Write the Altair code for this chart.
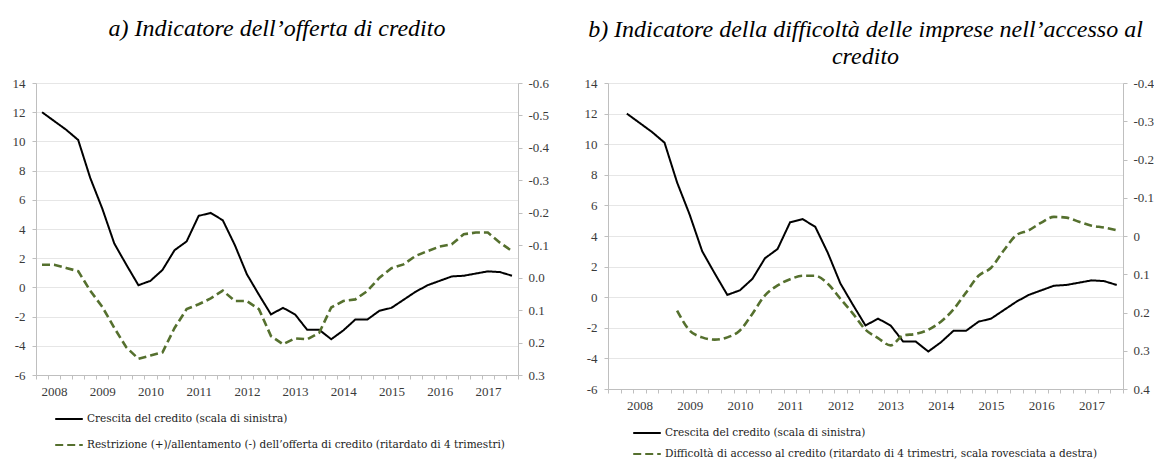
import altair as alt
import pandas as pd

# ---------------- data ----------------
quarters = [
    "2007Q4",
    "2008Q1", "2008Q2", "2008Q3", "2008Q4",
    "2009Q1", "2009Q2", "2009Q3", "2009Q4",
    "2010Q1", "2010Q2", "2010Q3", "2010Q4",
    "2011Q1", "2011Q2", "2011Q3", "2011Q4",
    "2012Q1", "2012Q2", "2012Q3", "2012Q4",
    "2013Q1", "2013Q2", "2013Q3", "2013Q4",
    "2014Q1", "2014Q2", "2014Q3", "2014Q4",
    "2015Q1", "2015Q2", "2015Q3", "2015Q4",
    "2016Q1", "2016Q2", "2016Q3", "2016Q4",
    "2017Q1", "2017Q2", "2017Q3",
]

credit_growth = [
    12.0, 11.4, 10.8, 10.1, 7.5, 5.4, 3.0, 1.55, 0.15, 0.45,
    1.2, 2.55, 3.15, 4.9, 5.1, 4.6, 2.9, 0.9, -0.5, -1.85,
    -1.4, -1.85, -2.9, -2.9, -3.55, -2.95, -2.2, -2.2, -1.6, -1.4,
    -0.85, -0.3, 0.15, 0.45, 0.75, 0.8, 0.95, 1.1, 1.05, 0.8,
]

supply_restriction = [
    -0.04, -0.04, -0.03, -0.02, 0.04, 0.09, 0.155, 0.215, 0.25, 0.24,
    0.23, 0.155, 0.097, 0.082, 0.064, 0.04, 0.072, 0.072, 0.097, 0.18,
    0.205, 0.187, 0.19, 0.17, 0.092, 0.072, 0.067, 0.041, 0.0, -0.029,
    -0.041, -0.067, -0.082, -0.096, -0.103, -0.134, -0.139, -0.139, -0.108, -0.082,
]

access_difficulty = [
    None, None, None, None, 0.195, 0.247, 0.265, 0.271, 0.265, 0.247,
    0.203, 0.155, 0.129, 0.113, 0.104, 0.104, 0.125, 0.164, 0.203, 0.245,
    0.267, 0.286, 0.260, 0.256, 0.245, 0.224, 0.192, 0.148, 0.104, 0.083,
    0.038, -0.002, -0.015, -0.035, -0.050, -0.048, -0.037, -0.027, -0.022, -0.015,
]

years = [2008, 2009, 2010, 2011, 2012, 2013, 2014, 2015, 2016, 2017]
left_ticks = [-6, -4, -2, 0, 2, 4, 6, 8, 10, 12, 14]
right_ticks_a = [-0.6, -0.5, -0.4, -0.3, -0.2, -0.1, 0.0, 0.1, 0.2, 0.3]
right_ticks_b = [-0.4, -0.3, -0.2, -0.1, 0, 0.1, 0.2, 0.3, 0.4]

S1 = "Crescita del credito (scala di sinistra)"
S2A = "Restrizione (+)/allentamento (-) dell’offerta di credito (ritardato di 4 trimestri)"
S2B = "Difficoltà di accesso al credito (ritardato di 4 trimestri, scala rovesciata a destra)"
TITLE_A = "a) Indicatore dell’offerta di credito"
TITLE_B = ["b) Indicatore della difficoltà delle imprese nell’accesso al", "credito"]

# ---------------- styling ----------------
FONT = "Liberation Serif"
LEGEND_FONT = "DejaVu Serif"
GREEN = "#55702E"
AXIS_GRAY = "#bfbfbf"
LABEL_COLOR = "#3a3a3a"


def qtime(q):
    return int(q[:4]) + (int(q[-1]) - 1) / 4.0


def long_frame(second_name, second_values):
    rows = []
    for q, v in zip(quarters, credit_growth):
        rows.append({"t": qtime(q), "series": S1, "value": v})
    for q, v in zip(quarters, second_values):
        if v is not None:
            rows.append({"t": qtime(q), "series": second_name, "value": v})
    return pd.DataFrame(rows)


def panel(df, second_name, x_start, n_cat, width, height, right_domain, right_vals,
          right_expr, title, legend_x, legend_y, row_pad, green_interp):
    x_end = x_start + 0.25 * n_cat
    tick_vals = [x_start + 0.25 * k for k in range(n_cat + 1)]
    half_cat = width / n_cat / 2.0
    x_enc = alt.X(
        "t:Q",
        scale=alt.Scale(domain=[x_start, x_end], nice=False, zero=False),
        axis=alt.Axis(
            values=tick_vals,
            labelExpr=f"indexof({years}, datum.value + 0.125) >= 0 ? '' + (datum.value + 0.125) : ''",
            labelOffset=half_cat,
            labelOverlap=False,
            labelFlush=False,
            grid=False,
            tickSize=4,
            labelPadding=6,
            labelFont=FONT,
            labelFontSize=13,
            labelColor=LABEL_COLOR,
            domainColor=AXIS_GRAY,
            tickColor=AXIS_GRAY,
        ),
        title=None,
    )
    legend = alt.Legend(
        orient="none",
        legendX=legend_x,
        legendY=legend_y,
        direction="vertical",
        title=None,
        symbolType="stroke",
        symbolSize=760,
        symbolStrokeWidth=2.2,
        labelFont=LEGEND_FONT,
        labelFontSize=10.5,
        labelColor="#222222",
        labelLimit=0,
        rowPadding=row_pad,
        padding=0,
        labelOffset=3,
    )
    color = alt.Color(
        "series:N",
        scale=alt.Scale(domain=[S1, second_name], range=["#000000", GREEN]),
        legend=legend,
    )
    dash = alt.StrokeDash(
        "series:N",
        scale=alt.Scale(domain=[S1, second_name], range=[[1, 0], [8, 4]]),
        legend=legend,
    )
    base = alt.Chart(df)
    black = base.transform_filter(alt.datum.series == S1).mark_line(strokeWidth=2).encode(
        x=x_enc,
        y=alt.Y(
            "value:Q",
            scale=alt.Scale(domain=[-6, 14], nice=False, zero=False),
            axis=alt.Axis(
                values=left_ticks,
                labelExpr="'' + datum.value",
                grid=True,
                gridColor="#e6e6e6",
                tickSize=4,
                labelPadding=7,
                labelFont=FONT,
                labelFontSize=13,
                labelColor=LABEL_COLOR,
                domainColor=AXIS_GRAY,
                tickColor=AXIS_GRAY,
            ),
            title=None,
        ),
        color=color,
        strokeDash=dash,
    )
    green = base.transform_filter(alt.datum.series == second_name).mark_line(
        strokeWidth=2.6, interpolate=green_interp
    ).encode(
        x=x_enc,
        y=alt.Y(
            "value:Q",
            scale=alt.Scale(domain=right_domain, reverse=True, nice=False, zero=False),
            axis=alt.Axis(
                orient="right",
                values=right_vals,
                labelExpr=right_expr,
                grid=False,
                tickSize=4,
                labelPadding=6,
                labelFont=FONT,
                labelFontSize=13,
                labelColor=LABEL_COLOR,
                domainColor=AXIS_GRAY,
                tickColor=AXIS_GRAY,
            ),
            title=None,
        ),
        color=color,
        strokeDash=dash,
    )
    return alt.layer(black, green).resolve_scale(y="independent").properties(
        width=width, height=height, title=title
    )


df_a = long_frame(S2A, supply_restriction)
df_b = long_frame(S2B, access_difficulty)

title_a = alt.TitleParams(
    text=TITLE_A, font=FONT, fontSize=24, fontStyle="italic", fontWeight="normal",
    color="#000000", anchor="middle", offset=36,
)
title_b = alt.TitleParams(
    text=TITLE_B, font=FONT, fontSize=24, fontStyle="italic", fontWeight="normal",
    color="#000000", anchor="middle", offset=8, lineHeight=27,
)

chart_a = panel(
    df_a, S2A, 2007.625, 40, 482, 292, [-0.6, 0.3], right_ticks_a,
    "replace(format(datum.value, '.1f'), '\u2212', '-')",
    title_a, 18, 321, 5, "linear",
)
chart_b = panel(
    df_b, S2B, 2007.375, 41, 515, 306, [-0.4, 0.4], right_ticks_b,
    "datum.value == 0 ? '0' : replace(format(datum.value, '.1f'), '\u2212', '-')",
    title_b, 24, 335, -14, "monotone",
)

chart = (
    alt.hconcat(chart_a, chart_b, spacing=35)
    .resolve_scale(color="independent", strokeDash="independent")
    .properties(padding={"left": 12, "top": 17, "right": 0, "bottom": 0}, background="white")
    .configure(font=FONT)
    .configure_view(stroke=None)
    .configure_axis(labelFont=FONT, labelFontSize=13, labelColor=LABEL_COLOR)
)

chart.save("out.html", embed_options={"renderer": "svg", "actions": False})
